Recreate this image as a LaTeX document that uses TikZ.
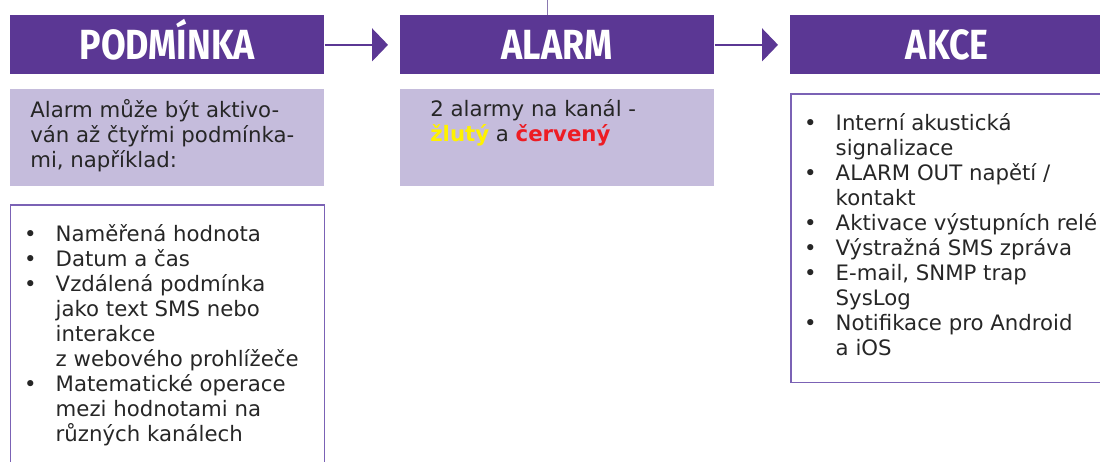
\documentclass[tikz,border=0pt]{standalone}
\usepackage{fontspec}
\setmainfont{DejaVu Sans}
\newfontfamily\headfont[FakeStretch=0.85]{Fira Sans}
\usetikzlibrary{arrows.meta}

\definecolor{darkpurple}{HTML}{5B3794}
\definecolor{lightpurple}{HTML}{C5BCDC}
\definecolor{linepurple}{HTML}{7B62B5}
\definecolor{feedgray}{HTML}{8A79B0}
\definecolor{textgray}{HTML}{262626}
\definecolor{alarmyellow}{HTML}{FFF200}
\definecolor{alarmred}{HTML}{ED1C24}

\newcommand\bodysize{\fontsize{12.1}{14.2}\selectfont}
\newenvironment{points}{\begin{list}{\textbullet}{%
  \setlength{\leftmargin}{0.65cm}\setlength{\labelsep}{0.38cm}%
  \setlength{\labelwidth}{0.27cm}\setlength{\itemsep}{0pt}%
  \setlength{\parsep}{0pt}\setlength{\topsep}{0pt}\setlength{\partopsep}{0pt}}}%
  {\end{list}}

\begin{document}
\begin{tikzpicture}[x=0.02cm, y=-0.02cm,
    head/.style={fill=darkpurple, text=white, anchor=north west, inner sep=0pt,
      minimum width=6.28cm, minimum height=1.18cm,
      text height=0.57cm, text depth=0pt,
      font=\headfont\bfseries\fontsize{24}{24}\selectfont},
    note/.style={fill=lightpurple, text=textgray, anchor=north west,
      inner xsep=0.4cm, inner ysep=0.2cm, font=\bodysize},
    listbox/.style={draw=linepurple, line width=0.03cm, text=textgray,
      anchor=north west, inner xsep=0.25cm, inner ysep=0.4cm, font=\bodysize},
    flow/.style={draw=darkpurple, line width=0.03cm,
      -{Triangle[length=0.32cm, width=0.66cm]}, shorten >=0.24cm}]
    \useasboundingbox (0,0) rectangle (1100,461);
    \clip (0,0) rectangle (1100,461);

    % headers
    \node[head] (cond) at (10,15) {PODMÍNKA};
    \node[head] (alarm) at (400,15) {ALARM};
    \node[head] (act) at (790,15) {AKCE};

    \draw[flow] (cond) -- (alarm);
    \draw[flow] (alarm) -- (act);

    \coordinate (feed) at (547,0);
    \draw[feedgray, line width=0.02cm] (feed) -- (feed |- alarm.north);

    % notes
    \node[note] (condnote) at (10,89) {\parbox[t][1.54cm][t]{5.48cm}{\raggedright
        Alarm může být aktivo-\\ván až čtyřmi podmínka-\\mi, například:}};
    \node[note, inner xsep=0.6cm] (alarmnote) at (400,89) {\parbox[t][1.54cm][t]{5.08cm}{\raggedright
        2 alarmy na kanál -\\{\bfseries\color{alarmyellow}žlutý} a {\bfseries\color{alarmred}červený}}};

    % lists
    \node[listbox] (condlist) at (10,204) {\parbox[t][5.4cm][t]{5.78cm}{\raggedright
        \begin{points}
          \item Naměřená hodnota
          \item Datum a čas
          \item Vzdálená podmínka\\jako text SMS nebo\\interakce\\z webového prohlížeče
          \item Matematické operace\\mezi hodnotami na\\různých kanálech
        \end{points}}};
    \node[listbox] (actlist) at (790,93) {\parbox[t][4.98cm][t]{6.2cm}{\raggedright
        \begin{points}
          \item Interní akustická\\signalizace
          \item ALARM OUT napětí /\\kontakt
          \item Aktivace výstupních relé
          \item Výstražná SMS zpráva
          \item E-mail, SNMP trap\\SysLog
          \item Notifikace pro Android\\a iOS
        \end{points}}};
\end{tikzpicture}
\end{document}
